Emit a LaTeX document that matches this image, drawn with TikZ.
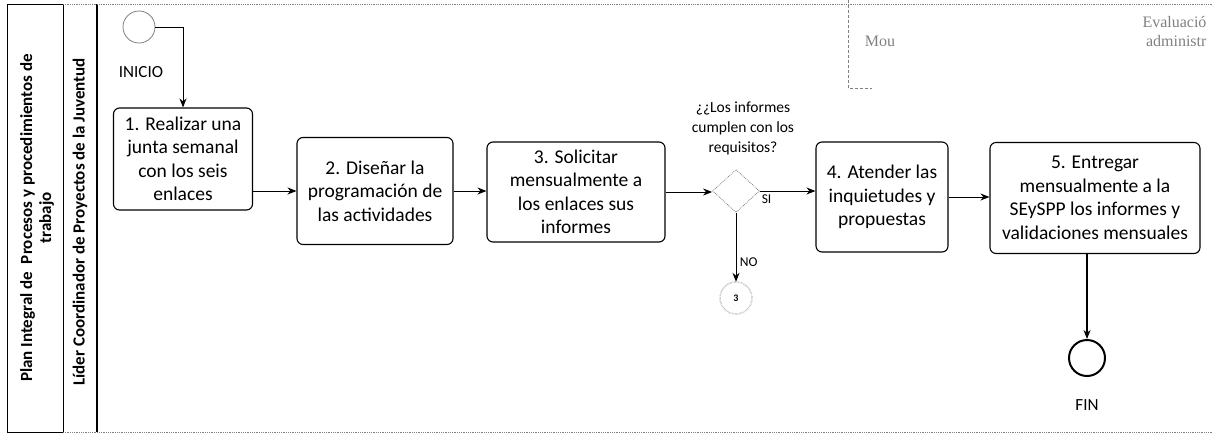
\documentclass[tikz,border=0pt]{standalone}
\usepackage{fontspec}
\setmainfont{Carlito}
\newfontfamily\scanfont{Liberation Serif}
\usetikzlibrary{arrows.meta,positioning,calc,shapes.geometric}

\begin{document}
\begin{tikzpicture}[
    x=1pt, y=-1pt,
    task/.style={draw, line width=1.1pt, rounded corners=6pt, align=center, font=\fontsize{19.5}{23.5}\selectfont, inner sep=2pt},
    gateway/.style={draw=gray, densely dotted, thick, diamond, minimum width=47pt, minimum height=43pt, inner sep=0pt},
    event/.style={draw, circle, inner sep=0pt},
    lbl/.style={font=\fontsize{17}{19}\selectfont},
    small/.style={font=\fontsize{13.5}{15}\selectfont},
    lanelbl/.style={rotate=90, align=center, font=\bfseries\fontsize{17}{19}\selectfont},
    arr/.style={-{Stealth[length=9pt,width=7pt]}, line width=0.9pt},
    lane/.style={draw, line width=0.8pt},
    stamp/.style={gray, font=\scanfont\fontsize{16}{18}\selectfont},
]
    \useasboundingbox (0,0) rectangle (1212,440);

    % lanes
    \draw[lane] (7,4) rectangle (63,432);
    \draw[line width=1.3pt] (97,4) -- (97,432);
    \draw[gray, densely dotted, thick] (63,4) -- (1212,4);
    \draw[gray, densely dotted, thick] (63,432) -- (1212,432);
    \node[lanelbl] (lane1) at (37,218) {Plan Integral de\ \ Procesos y procedimientos de\\trabajo};
    \node[lanelbl] (lane2) at (80,222) {Líder Coordinador de Proyectos de la Juventud};

    % stamp left by the scan
    \draw[gray, densely dashed] (848,0) -- (848,88) -- (872,88);
    \node[stamp, anchor=east] (stamp1) at (1210,22) {Evaluació};
    \node[stamp] (stamp2) at (880,41) {Mou};
    \node[stamp, anchor=east] (stamp3) at (1210,41) {administr};

    % events and tasks
    \node[event, draw=gray, thick, minimum size=32pt] (inicio) at (139,27) {};
    \node[lbl] (inicioLbl) at (141,72) {INICIO};

    \node[task, minimum width=139pt, minimum height=102pt] (t1) at (183,159) {1. Realizar una\\junta semanal\\con los seis\\enlaces};
    \node[task, minimum width=156pt, minimum height=107pt] (t2) at (375,191) {2. Diseñar la\\programación de\\las actividades};
    \node[task, minimum width=178pt, minimum height=100pt] (t3) at (576,192) {3. Solicitar\\mensualmente a\\los enlaces sus\\informes};
    \node[gateway] (gw) at (736,191) {};
    \node[align=center, font=\fontsize{15.5}{20}\selectfont] (q) at (743,128) {¿¿Los informes\\cumplen con los\\requisitos?};
    \node[event, draw=gray, densely dotted, double, minimum size=32pt, font=\bfseries\fontsize{10}{11}\selectfont] (conn) at (736,298) {3};
    \node[task, minimum width=132pt, minimum height=110pt] (t4) at (882,197) {4. Atender las\\inquietudes y\\propuestas};
    \node[task, minimum width=210pt, minimum height=111pt] (t5) at (1095,198) {5. Entregar\\mensualmente a la\\SEySPP los informes y\\validaciones mensuales};
    \node[event, line width=2pt, minimum size=36pt] (fin) at (1087,358) {};
    \node[lbl] (finLbl) at (1087,405) {FIN};

    % flow
    \draw[arr] (inicio.east) -| (t1.north);
    \draw[arr] (t1.east |- t2.west) -- (t2.west);
    \draw[arr] (t2.east) -- (t2.east -| t3.west);
    \draw[arr] (t3.east) -- (t3.east -| gw.west);
    \draw[arr] (gw.east) -- node[small, below, pos=0.12] {SI} (gw.east -| t4.west);
    \draw[arr] (gw.south) -- node[small, right, pos=0.72] {NO} (conn.north);
    \draw[arr] (t4.east) -- (t4.east -| t5.west);
    \draw[arr, line width=1.5pt] (t5.south -| fin.north) -- (fin.north);
\end{tikzpicture}
\end{document}
